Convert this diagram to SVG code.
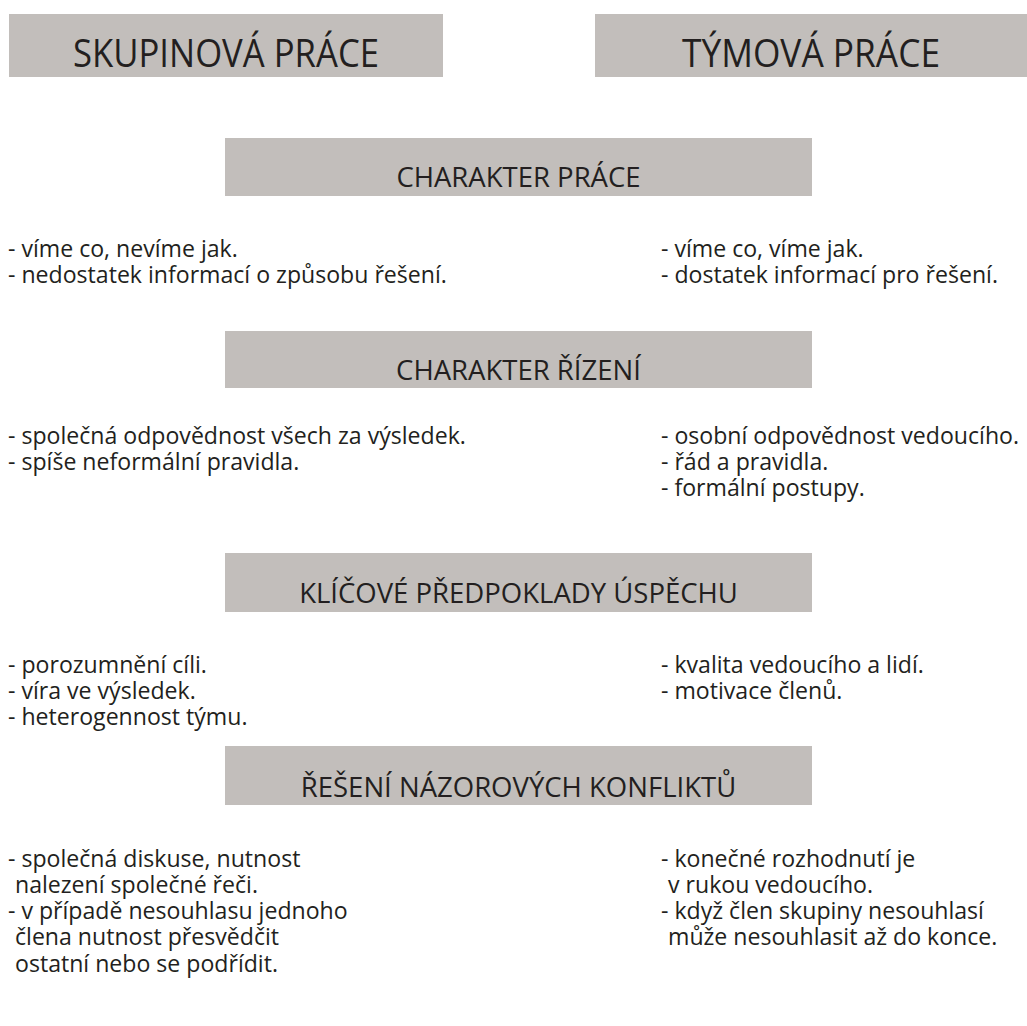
<svg xmlns="http://www.w3.org/2000/svg" width="1027" height="1026" viewBox="0 0 1027 1026">
<style>
.box{fill:#c2bebb}
.t{font-family:"Open Sans","Noto Sans",sans-serif;fill:#231f20}
.h1{font-size:38px;text-anchor:middle}
.h2{font-size:27.5px;text-anchor:middle}
.b{font-size:23.1px}
</style>
<rect width="1027" height="1026" fill="#ffffff"/>
<g id="skupinova">
<rect class="box" x="9" y="14" width="434" height="63"/>
<text class="t h1" x="226" y="67" textLength="306" lengthAdjust="spacingAndGlyphs">SKUPINOVÁ PRÁCE</text>
</g>
<g id="tymova">
<rect class="box" x="595" y="14" width="432" height="63"/>
<text class="t h1" x="811" y="67" textLength="258" lengthAdjust="spacingAndGlyphs">TÝMOVÁ PRÁCE</text>
</g>
<g id="charakter-prace">
<rect class="box" x="225" y="138" width="587" height="58"/>
<text class="t h2" x="518.5" y="187">CHARAKTER PRÁCE</text>
</g>
<g id="prace-skupina">
<text class="t b" x="8" y="257">- víme co, nevíme jak.</text>
<text class="t b" x="8" y="283">- nedostatek informací o způsobu řešení.</text>
</g>
<g id="prace-tym">
<text class="t b" x="661" y="257">- víme co, víme jak.</text>
<text class="t b" x="661" y="283">- dostatek informací pro řešení.</text>
</g>
<g id="charakter-rizeni">
<rect class="box" x="225" y="331" width="587" height="57"/>
<text class="t h2" x="518.5" y="380">CHARAKTER ŘÍZENÍ</text>
</g>
<g id="rizeni-skupina">
<text class="t b" x="8" y="444">- společná odpovědnost všech za výsledek.</text>
<text class="t b" x="8" y="470">- spíše neformální pravidla.</text>
</g>
<g id="rizeni-tym">
<text class="t b" x="661" y="444">- osobní odpovědnost vedoucího.</text>
<text class="t b" x="661" y="470">- řád a pravidla.</text>
<text class="t b" x="661" y="496">- formální postupy.</text>
</g>
<g id="predpoklady">
<rect class="box" x="225" y="553" width="587" height="59"/>
<text class="t h2" x="518.5" y="603">KLÍČOVÉ PŘEDPOKLADY ÚSPĚCHU</text>
</g>
<g id="predpoklady-skupina">
<text class="t b" x="8" y="673">- porozumnění cíli.</text>
<text class="t b" x="8" y="699">- víra ve výsledek.</text>
<text class="t b" x="8" y="725">- heterogennost týmu.</text>
</g>
<g id="predpoklady-tym">
<text class="t b" x="661" y="673">- kvalita vedoucího a lidí.</text>
<text class="t b" x="661" y="699">- motivace členů.</text>
</g>
<g id="konflikty">
<rect class="box" x="225" y="746" width="587" height="59"/>
<text class="t h2" x="518.5" y="797">ŘEŠENÍ NÁZOROVÝCH KONFLIKTŮ</text>
</g>
<g id="konflikty-skupina">
<text class="t b" x="8" y="867">- společná diskuse, nutnost</text>
<text class="t b" x="15" y="893">nalezení společné řeči.</text>
<text class="t b" x="8" y="919">- v případě nesouhlasu jednoho</text>
<text class="t b" x="15" y="945">člena nutnost přesvědčit</text>
<text class="t b" x="15" y="972">ostatní nebo se podřídit.</text>
</g>
<g id="konflikty-tym">
<text class="t b" x="661" y="867">- konečné rozhodnutí je</text>
<text class="t b" x="668" y="893">v rukou vedoucího.</text>
<text class="t b" x="661" y="919">- když člen skupiny nesouhlasí</text>
<text class="t b" x="668" y="945">může nesouhlasit až do konce.</text>
</g>
</svg>
